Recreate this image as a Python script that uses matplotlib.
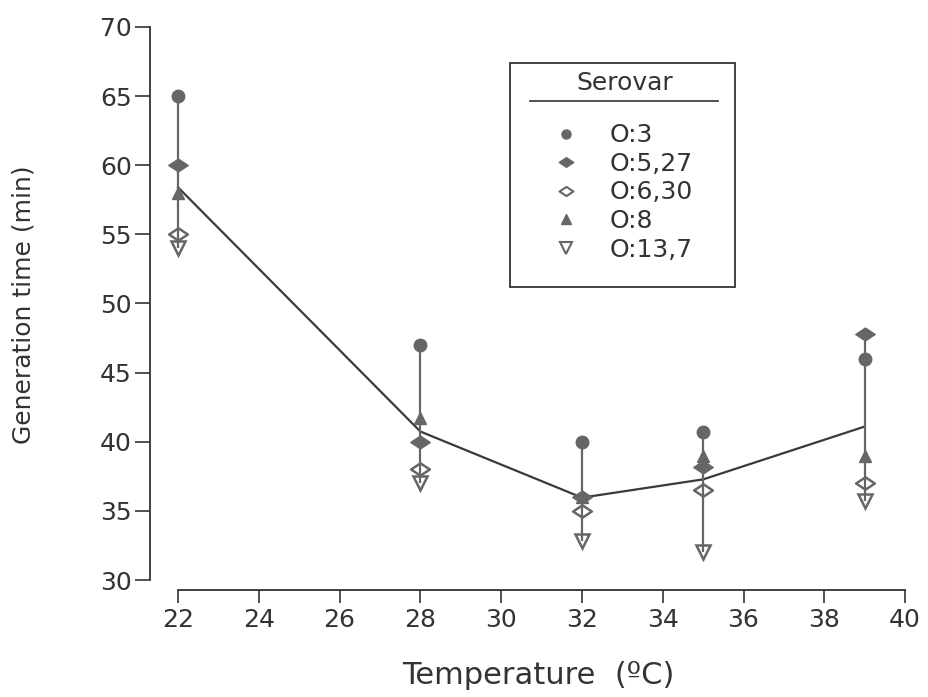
import matplotlib
matplotlib.use("Agg")
import matplotlib.pyplot as plt
from matplotlib.patches import Rectangle
from matplotlib.lines import Line2D
from matplotlib.path import Path
import numpy as np

plt.rcParams['font.family'] = ['DejaVu Sans']

temps = [22, 28, 32, 35, 39]
serovars = ["O:3", "O:5,27", "O:6,30", "O:8", "O:13,7"]
o3 = [65.0, 47.0, 40.0, 40.7, 46.0]
o5_27 = [60.0, 40.0, 36.0, 38.2, 47.8]
o6_30 = [55.0, 38.0, 35.0, 36.5, 37.0]
o8 = [58.0, 41.7, 36.0, 39.0, 39.0]
o13_7 = [54.0, 37.0, 32.8, 32.0, 35.7]

xticks = [22, 24, 26, 28, 30, 32, 34, 36, 38, 40]
yticks = [30, 35, 40, 45, 50, 55, 60, 65, 70]

grey = '#666666'
dark = '#3a3a3a'
txt = '#333333'

wide_diamond = Path([(-1, 0), (0, 0.66), (1, 0), (0, -0.66), (-1, 0)],
                    [Path.MOVETO, Path.LINETO, Path.LINETO, Path.LINETO, Path.CLOSEPOLY])

fig = plt.figure(figsize=(9.29, 6.97), dpi=100)
ax = fig.add_axes([150/929, 1-590/697, 760/929, 570/697])

series = [o3, o5_27, o6_30, o8, o13_7]
allv = np.array(series)
mins = allv.min(axis=0)
maxs = allv.max(axis=0)
means = allv.mean(axis=0)

ax.vlines(temps, mins, maxs, color=grey, lw=1.6, zorder=5)
ax.plot(temps, means, color=dark, lw=1.6, zorder=3)

styles = [
    dict(marker='o', ms=9, mfc=grey, mec=grey),
    dict(marker=wide_diamond, ms=14, mfc=grey, mec=grey),
    dict(marker=wide_diamond, ms=13.5, mfc='none', mec=grey, mew=1.8),
    dict(marker='^', ms=9, mfc=grey, mec=grey),
    dict(marker='v', ms=10.5, mfc='none', mec=grey, mew=1.8),
]
leg_ms = [6.5, 10.5, 10, 7, 8.5]
handles = []
for vals, st, lab, lm in zip(series, styles, serovars, leg_ms):
    ax.plot(temps, vals, ls='none', zorder=4, **st)
    st2 = dict(st)
    st2['ms'] = lm
    if st2.get('mew'):
        st2['mew'] = 1.5
    handles.append(Line2D([], [], ls='none', label=lab, **st2))

ax.set_xlim(21.307, 40.12)
ax.set_ylim(29.28, 70.5)
ax.set_xticks(xticks)
ax.set_yticks(yticks)
ax.spines['top'].set_visible(False)
ax.spines['right'].set_visible(False)
ax.spines['bottom'].set_bounds(22, 40)
ax.spines['left'].set_bounds(30, 70)
for s in ['left', 'bottom']:
    ax.spines[s].set_linewidth(1.3)
    ax.spines[s].set_color(txt)
ax.tick_params(axis='both', labelsize=18, width=1.2, color=txt, labelcolor=txt)
ax.tick_params(axis='x', length=9, pad=4)
ax.tick_params(axis='y', length=11, pad=2)

fig.text(24/929, 1-305/697, 'Generation time (min)', rotation=90, ha='center', va='center',
         fontsize=18, color=txt)
fig.text(538/929, 1-676/697, 'Temperature  (ºC)', ha='center', va='center',
         fontsize=22, color=txt)

# legend box
fig.patches.append(Rectangle((510/929, 1-287/697), 225/929, 224/697, transform=fig.transFigure,
                             fill=False, ec=txt, lw=1.3))
fig.text(625/929, 1-83/697, 'Serovar', ha='center', va='center', fontsize=18, color=txt)
fig.lines.append(Line2D([530/929, 718/929], [1-101/697, 1-101/697], transform=fig.transFigure,
                        color=txt, lw=1.2))
leg = ax.legend(handles=handles, loc='upper left', bbox_to_anchor=(535/929, 1-111/697),
                bbox_transform=fig.transFigure, frameon=False, fontsize=18,
                handletextpad=1.0, labelspacing=0.18, handlelength=1.5, borderpad=0)
for t in leg.get_texts():
    t.set_color(txt)

fig.savefig('out.png', dpi=100)
